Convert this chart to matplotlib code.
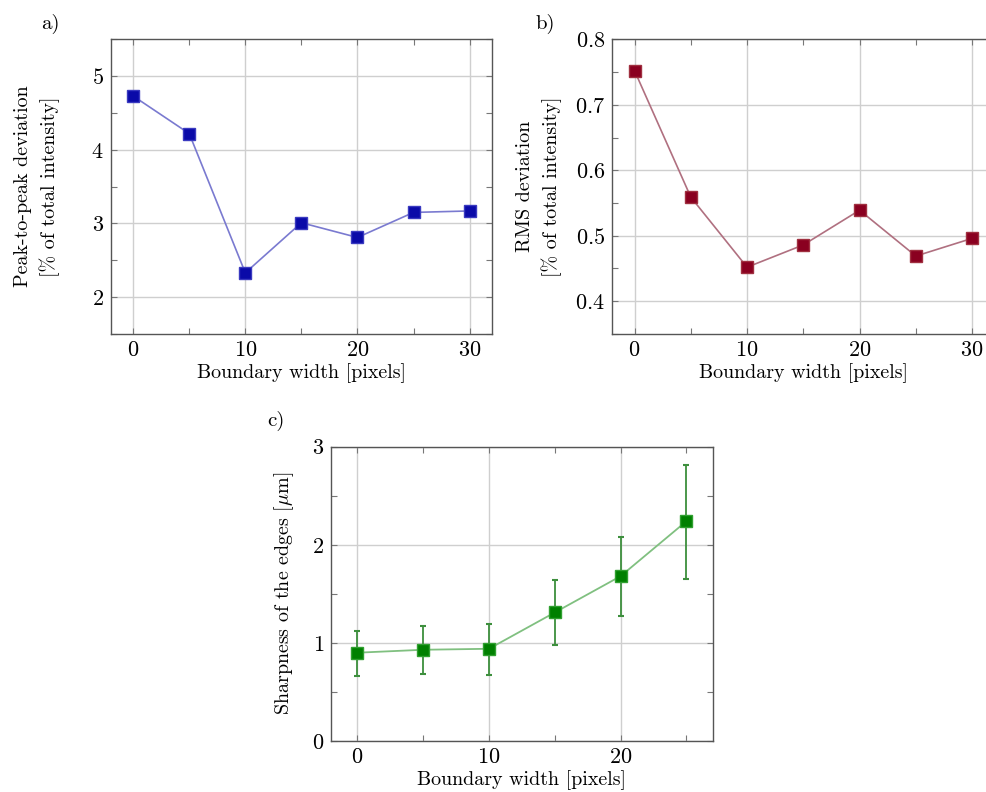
import numpy as np
import matplotlib
matplotlib.use('Agg')
import matplotlib.pyplot as plt
from matplotlib.ticker import MultipleLocator

plt.rcParams['font.family'] = 'cmr10'
plt.rcParams['mathtext.fontset'] = 'cm'
plt.rcParams['axes.formatter.use_mathtext'] = True

# data
width_ab = [0, 5, 10, 15, 20, 25, 30]
p2p = [4.73, 4.22, 2.33, 3.01, 2.81, 3.15, 3.17]
rms = [0.752, 0.559, 0.452, 0.486, 0.539, 0.469, 0.496]

width_c = [0, 5, 10, 15, 20, 25]
sharp = [0.90, 0.93, 0.94, 1.31, 1.68, 2.24]
sharp_hi = [1.12, 1.17, 1.195, 1.64, 2.077, 2.81]
sharp_lo = [0.667, 0.678, 0.673, 0.976, 1.27, 1.65]

xlabel = 'Boundary width [pixels]'
LBL = 14.4
TCK = 16

fig = plt.figure(figsize=(9.87, 7.92), dpi=100)
ax_a = fig.add_axes([0.1122, 0.5783, 0.3863, 0.3721])
ax_b = fig.add_axes([0.6201, 0.5783, 0.3876, 0.3721])
ax_c = fig.add_axes([0.3354, 0.0644, 0.3867, 0.3716])


def style(ax, xmaj, xmin, ymaj, ymin):
    ax.xaxis.set_major_locator(MultipleLocator(xmaj))
    ax.xaxis.set_minor_locator(MultipleLocator(xmin))
    ax.yaxis.set_major_locator(MultipleLocator(ymaj))
    ax.yaxis.set_minor_locator(MultipleLocator(ymin))
    ax.grid(True, which='major', color='#cfcfcf', lw=1.0)
    ax.set_axisbelow(True)
    ax.tick_params(which='both', direction='in', top=True, right=True,
                   color='#777777', labelsize=TCK)
    ax.tick_params(which='major', length=4, width=0.8, pad=5)
    ax.tick_params(which='minor', length=4, width=0.8)
    for s in ax.spines.values():
        s.set_color('#555555')
        s.set_linewidth(1.0)


# a) peak-to-peak
ax_a.plot(width_ab, p2p, '-', color='#7a7ad0', lw=1.2, zorder=3)
ax_a.plot(width_ab, p2p, 's', color='#0a0aa8', mec='#3a3ac0', ms=8.5, zorder=4)
ax_a.set_xlim(-2, 32)
ax_a.set_ylim(1.5, 5.5)
style(ax_a, 10, 5, 1, 0.5)
ax_a.set_xlabel(xlabel, fontsize=LBL, labelpad=2)
ax_a.set_ylabel('Peak-to-peak deviation\n[% of total intensity]', fontsize=LBL,
                linespacing=1.45)
ax_a.yaxis.set_label_coords(-0.133, 0.5)
fig.text(0.042, 0.983, 'a)', fontsize=15, va='top')

# b) RMS
ax_b.plot(width_ab, rms, '-', color='#b07080', lw=1.2, zorder=3)
ax_b.plot(width_ab, rms, 's', color='#8a0020', mec='#a03040', ms=8.5, zorder=4)
ax_b.set_xlim(-2, 32)
ax_b.set_ylim(0.35, 0.8)
style(ax_b, 10, 5, 0.1, 0.05)
ax_b.set_xlabel(xlabel, fontsize=LBL, labelpad=2)
ax_b.set_ylabel('RMS deviation\n[% of total intensity]', fontsize=LBL,
                linespacing=1.45)
ax_b.yaxis.set_label_coords(-0.131, 0.5)
fig.text(0.543, 0.983, 'b)', fontsize=15, va='top')

# c) sharpness
yerr = [np.array(sharp) - np.array(sharp_lo), np.array(sharp_hi) - np.array(sharp)]
ax_c.errorbar(width_c, sharp, yerr=yerr, fmt='none', ecolor='#3d8f3d',
              elinewidth=1.3, capsize=2, capthick=1.5, zorder=3)
ax_c.plot(width_c, sharp, '-', color='#80c080', lw=1.3, zorder=3)
ax_c.plot(width_c, sharp, 's', color='#008000', mec='#30a030', ms=8.5, zorder=4)
ax_c.set_xlim(-2, 27)
ax_c.set_ylim(0, 3)
style(ax_c, 10, 5, 1, 0.5)
ax_c.set_xlabel(xlabel, fontsize=LBL, labelpad=2)
ax_c.set_ylabel(r'Sharpness of the edges [$\mu$m]', fontsize=LBL)
ax_c.yaxis.set_label_coords(-0.092, 0.5)
fig.text(0.271, 0.481, 'c)', fontsize=15, va='top')

fig.savefig('out.png', dpi=100)
